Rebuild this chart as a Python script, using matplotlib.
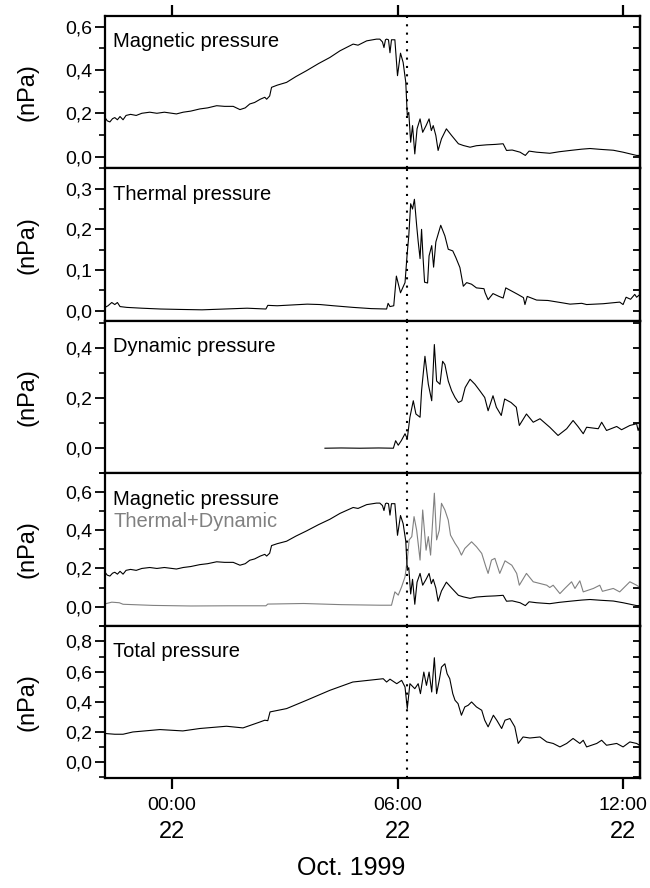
import matplotlib.pyplot as plt
from matplotlib.ticker import MultipleLocator, FuncFormatter

plt.rcParams['font.family'] = ['Liberation Sans', 'DejaVu Sans']

# time in hours from 22 Oct 1999 00:00
mag_t = [-1.78, -1.72, -1.65, -1.58, -1.52, -1.45, -1.38, -1.30, -1.22, -1.10,
         -0.95, -0.80, -0.59, -0.40, -0.20, 0.00, 0.12, 0.30, 0.50, 0.74,
         0.95, 1.19, 1.40, 1.63, 1.81, 1.95, 2.07, 2.20, 2.35, 2.47,
         2.52, 2.60, 2.65, 2.80, 3.05, 3.30, 3.58, 3.90, 4.20, 4.47,
         4.65, 4.82, 4.95, 5.18, 5.44, 5.53, 5.60, 5.64, 5.68, 5.71,
         5.76, 5.80, 5.84, 5.93, 6.00, 6.08, 6.15, 6.22, 6.26, 6.30,
         6.35, 6.40, 6.46, 6.52, 6.60, 6.67, 6.76, 6.84, 6.90, 6.95,
         7.02, 7.08, 7.17, 7.30, 7.44, 7.62, 7.75, 7.93, 8.10, 8.37,
         8.60, 8.81, 8.90, 9.05, 9.26, 9.40, 9.50, 9.70, 10.05, 10.30,
         10.59, 10.90, 11.12, 11.40, 11.74, 12.00, 12.36, 12.45]
mag_p = [0.18, 0.165, 0.16, 0.175, 0.18, 0.17, 0.185, 0.17, 0.19, 0.195,
         0.19, 0.20, 0.205, 0.20, 0.205, 0.20, 0.197, 0.205, 0.21, 0.22,
         0.225, 0.235, 0.232, 0.232, 0.217, 0.225, 0.243, 0.25, 0.265, 0.274,
         0.265, 0.28, 0.32, 0.33, 0.343, 0.37, 0.397, 0.43, 0.458, 0.489,
         0.505, 0.52, 0.515, 0.535, 0.543, 0.543, 0.53, 0.504, 0.54, 0.543,
         0.54, 0.48, 0.54, 0.54, 0.374, 0.478, 0.435, 0.343, 0.19, 0.204,
         0.066, 0.143, 0.012, 0.128, 0.174, 0.112, 0.143, 0.174, 0.12, 0.143,
         0.097, 0.028, 0.082, 0.128, 0.097, 0.059, 0.051, 0.043, 0.05, 0.054,
         0.056, 0.059, 0.028, 0.03, 0.02, 0.005, 0.025, 0.02, 0.015, 0.022,
         0.028, 0.034, 0.037, 0.033, 0.029, 0.02, 0.005, 0.005]

th_t = [-1.78, -1.70, -1.60, -1.52, -1.45, -1.38, -1.20, -0.80, -0.30, 0.20,
        0.80, 1.40, 2.00, 2.50, 2.55, 2.80, 3.20, 3.60, 3.94, 4.30,
        4.82, 5.30, 5.71, 5.75, 5.80, 5.90, 5.97, 6.08, 6.20, 6.26,
        6.30, 6.35, 6.40, 6.45, 6.51, 6.55, 6.60, 6.64, 6.68, 6.72,
        6.80, 6.84, 6.91, 6.96, 7.02, 7.15, 7.26, 7.35, 7.47, 7.55,
        7.66, 7.75, 7.84, 7.97, 8.10, 8.30, 8.33, 8.41, 8.54, 8.70,
        8.81, 8.88, 9.00, 9.20, 9.35, 9.39, 9.45, 9.70, 10.00, 10.40,
        10.59, 10.90, 11.03, 11.47, 11.91, 12.00, 12.08, 12.20, 12.31, 12.36,
        12.45]
th_p = [0.008, 0.012, 0.02, 0.015, 0.02, 0.01, 0.008, 0.006, 0.004, 0.003,
        0.002, 0.004, 0.006, 0.004, 0.013, 0.012, 0.014, 0.016, 0.015, 0.012,
        0.008, 0.005, 0.004, 0.018, 0.01, 0.012, 0.085, 0.044, 0.069, 0.143,
        0.184, 0.263, 0.25, 0.274, 0.209, 0.17, 0.128, 0.2, 0.13, 0.07,
        0.068, 0.135, 0.16, 0.107, 0.169, 0.21, 0.184, 0.151, 0.147, 0.131,
        0.106, 0.06, 0.069, 0.065, 0.056, 0.054, 0.044, 0.027, 0.042, 0.035,
        0.031, 0.056, 0.05, 0.04, 0.032, 0.015, 0.035, 0.026, 0.025, 0.019,
        0.016, 0.018, 0.015, 0.017, 0.021, 0.015, 0.033, 0.028, 0.04, 0.033,
        0.04]

dyn_t = [4.07, 4.50, 5.00, 5.50, 5.89, 5.95, 6.02, 6.10, 6.20, 6.26,
         6.33, 6.42, 6.49, 6.60, 6.64, 6.73, 6.82, 6.91, 6.98, 7.04,
         7.13, 7.20, 7.26, 7.35, 7.44, 7.53, 7.62, 7.71, 7.80, 7.93,
         8.06, 8.19, 8.32, 8.41, 8.54, 8.63, 8.76, 8.85, 9.02, 9.16,
         9.24, 9.43, 9.61, 9.79, 10.05, 10.27, 10.50, 10.67, 10.80, 10.94,
         11.03, 11.34, 11.43, 11.56, 11.83, 11.96, 12.18, 12.36, 12.40, 12.45]
dyn_p = [0.0, 0.001, 0.0, 0.001, 0.0, 0.03, 0.012, 0.03, 0.058, 0.038,
         0.124, 0.19, 0.137, 0.124, 0.23, 0.368, 0.256, 0.19, 0.415, 0.269,
         0.256, 0.348, 0.335, 0.269, 0.23, 0.203, 0.183, 0.19, 0.243, 0.276,
         0.256, 0.23, 0.203, 0.15, 0.21, 0.164, 0.131, 0.197, 0.183, 0.164,
         0.091, 0.137, 0.104, 0.118, 0.084, 0.051, 0.078, 0.111, 0.087, 0.058,
         0.084, 0.078, 0.104, 0.071, 0.087, 0.074, 0.091, 0.098, 0.071, 0.09]

# thermal + dynamic (grey curve, panel 4)
td_t = [-1.78, -1.60, -1.40, -1.30, -0.50, 0.50, 1.50, 2.50, 2.55, 3.50,
        4.50, 5.53, 5.84, 5.93, 6.02, 6.11, 6.20, 6.26, 6.31, 6.38,
        6.44, 6.51, 6.60, 6.67, 6.76, 6.82, 6.88, 6.98, 7.04, 7.11,
        7.17, 7.26, 7.35, 7.41, 7.53, 7.62, 7.70, 7.79, 7.97, 8.10,
        8.24, 8.35, 8.41, 8.50, 8.59, 8.72, 8.86, 9.04, 9.17, 9.24,
        9.43, 9.61, 9.79, 9.97, 10.05, 10.14, 10.32, 10.45, 10.63, 10.72,
        10.85, 10.94, 11.21, 11.38, 11.45, 11.74, 11.91, 12.18, 12.36, 12.45]
td_p = [0.014, 0.023, 0.02, 0.012, 0.006, 0.003, 0.004, 0.004, 0.013, 0.016,
        0.01, 0.007, 0.007, 0.077, 0.06, 0.104, 0.156, 0.244, 0.35, 0.367,
        0.472, 0.40, 0.244, 0.507, 0.296, 0.367, 0.27, 0.595, 0.35, 0.40,
        0.542, 0.507, 0.454, 0.375, 0.332, 0.305, 0.27, 0.305, 0.34, 0.314,
        0.279, 0.209, 0.174, 0.244, 0.253, 0.174, 0.24, 0.217, 0.174, 0.112,
        0.174, 0.13, 0.121, 0.112, 0.10, 0.112, 0.068, 0.095, 0.13, 0.095,
        0.135, 0.077, 0.095, 0.112, 0.08, 0.095, 0.077, 0.13, 0.112, 0.10]

tot_t = [-1.78, -1.52, -1.30, -1.04, -0.32, 0.29, 0.74, 1.45, 1.89, 2.34,
         2.47, 2.55, 2.61, 3.05, 3.58, 4.20, 4.81, 5.62, 5.71, 5.80,
         5.98, 6.11, 6.20, 6.26, 6.33, 6.46, 6.55, 6.61, 6.70, 6.77,
         6.84, 6.91, 6.98, 7.04, 7.11, 7.17, 7.26, 7.32, 7.39, 7.47,
         7.53, 7.61, 7.70, 7.79, 7.88, 7.97, 8.10, 8.24, 8.32, 8.41,
         8.55, 8.64, 8.77, 8.86, 8.99, 9.12, 9.21, 9.34, 9.52, 9.79,
         9.97, 10.14, 10.32, 10.50, 10.67, 10.85, 10.94, 11.03, 11.30, 11.43,
         11.56, 11.83, 12.00, 12.18, 12.36, 12.45]
tot_p = [0.19, 0.185, 0.185, 0.20, 0.216, 0.207, 0.223, 0.238, 0.227, 0.266,
         0.278, 0.275, 0.333, 0.355, 0.41, 0.476, 0.531, 0.553, 0.531, 0.55,
         0.52, 0.542, 0.498, 0.355, 0.52, 0.487, 0.52, 0.454, 0.597, 0.509,
         0.597, 0.465, 0.692, 0.454, 0.542, 0.63, 0.652, 0.586, 0.553, 0.454,
         0.41, 0.388, 0.311, 0.366, 0.377, 0.399, 0.366, 0.344, 0.278, 0.234,
         0.311, 0.278, 0.223, 0.278, 0.289, 0.234, 0.124, 0.167, 0.16, 0.167,
         0.134, 0.124, 0.101, 0.124, 0.157, 0.124, 0.145, 0.101, 0.124, 0.145,
         0.112, 0.124, 0.101, 0.134, 0.124, 0.11]

xticks = [0, 6, 12]
xtick_times = ['00:00', '06:00', '12:00']
xtick_days = ['22', '22', '22']
shock = 6.25
t_min, t_max = -1.78, 12.45

ylims = [(-0.055, 0.65), (-0.025, 0.35), (-0.1, 0.51), (-0.1, 0.7), (-0.105, 0.905)]
major = [0.2, 0.1, 0.2, 0.2, 0.2]
minor = [0.1, 0.05, 0.1, 0.1, 0.1]
titles = ['Magnetic pressure', 'Thermal pressure', 'Dynamic pressure',
          'Magnetic pressure', 'Total pressure']

fig = plt.figure(figsize=(6.5, 8.88), dpi=100)
left, width = 105 / 650, 535 / 650
top, bottom = 1 - 16 / 888, 1 - 778 / 888
h = (top - bottom) / 5

comma = FuncFormatter(lambda v, p: f'{v:.1f}'.replace('.', ','))

axes = []
for i in range(5):
    ax = fig.add_axes([left, top - (i + 1) * h, width, h])
    axes.append(ax)
    ax.set_xlim(t_min, t_max)
    ax.set_ylim(*ylims[i])
    for s in ax.spines.values():
        s.set_linewidth(1.6)
    ax.yaxis.set_major_locator(MultipleLocator(major[i]))
    ax.yaxis.set_minor_locator(MultipleLocator(minor[i]))
    ax.yaxis.set_major_formatter(comma)
    ax.tick_params(axis='y', which='major', direction='out', length=7, width=1.3,
                   labelsize=14, pad=2, right=False)
    ax.tick_params(axis='y', which='minor', direction='out', length=4, width=1.2,
                   right=False)
    sec = ax.secondary_yaxis('right')
    sec.yaxis.set_major_locator(MultipleLocator(minor[i]))
    sec.tick_params(direction='in', length=5, width=1.3, labelright=False)
    sec.spines['right'].set_linewidth(1.6)
    ax.set_xticks(xticks)
    ax.tick_params(axis='x', direction='out', length=8, width=1.6,
                   top=(i == 0), labelbottom=(i == 4), labelsize=14, pad=6)
    ax.axvline(shock, color='k', ls=(0, (1, 3)), lw=1.5)
    ax.text(-0.145, 0.5, '(nPa)', transform=ax.transAxes, rotation=90,
            ha='center', va='center', fontsize=17)
    ax.text(0.015, 0.83, titles[i], transform=ax.transAxes, fontsize=14.5,
            ha='left', va='center')

lw = 0.8
axes[0].plot(mag_t, mag_p, color='k', lw=lw)
axes[1].plot(th_t, th_p, color='k', lw=lw)
axes[2].plot(dyn_t, dyn_p, color='k', lw=lw)
axes[3].plot(td_t, td_p, color='#808080', lw=lw)
axes[3].plot(mag_t, mag_p, color='k', lw=lw)
axes[3].text(0.015, 0.68, 'Thermal+Dynamic', transform=axes[3].transAxes,
             fontsize=14.5, color='#808080', ha='left', va='center')
axes[4].plot(tot_t, tot_p, color='k', lw=lw)

axes[4].set_xticklabels(xtick_times)
for t, d in zip(xticks, xtick_days):
    axes[4].text(t, -0.355, d, transform=axes[4].get_xaxis_transform(),
                 ha='center', va='center', fontsize=17)

fig.text(351 / 650, 1 - 868 / 888, 'Oct. 1999', ha='center', va='center', fontsize=18)

fig.savefig('out.png', dpi=100)
